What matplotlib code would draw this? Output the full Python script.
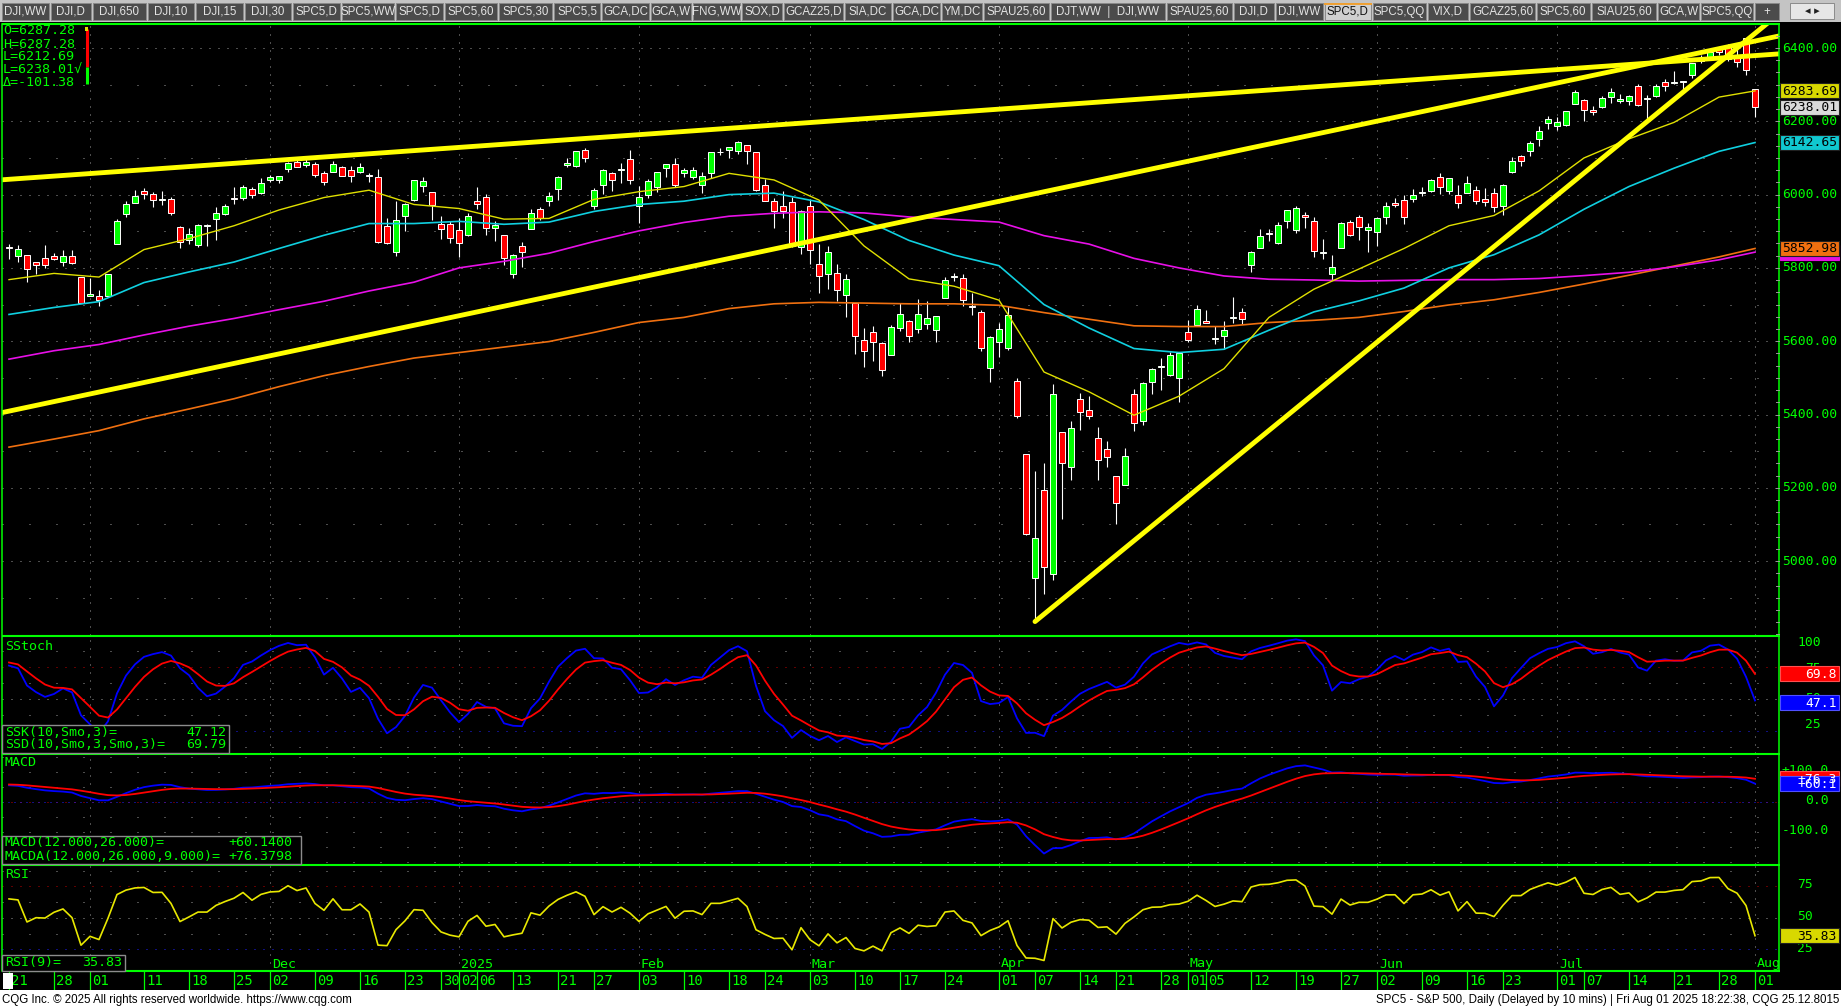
import numpy as np
import pandas as pd
import matplotlib
matplotlib.use('Agg')
import matplotlib.pyplot as plt
from matplotlib.patches import Rectangle

# S&P 500 daily bars, 21 Oct 2024 .. 01 Aug 2025 (one value per session)
open_ = [
    5857, 5833, 5834, 5817, 5826, 5833, 5816, 5833, 5775,
    5723, 5724, 5722, 5864, 5947, 5977, 6009, 6003, 5985, 5989, 5912, 5877, 5862, 5915, 5933, 5948, 5992, 5992, 6015, 6004,
    6040, 6041, 6069, 6089, 6081, 6084, 6058, 6061, 6075, 6068, 6063, 6052, 6048, 5913, 5843, 5941, 5985, 6024, 6006, 5920, 5920,
    5903, 5891, 5983, 5994, 5910, 5890, 5782, 5859, 5905, 5962, 5983, 6015, 6082, 6077, 6122, 5970, 6027, 6058, 6066, 6096,
    5969, 5998, 6021, 6073, 6083, 6060, 6049, 6026, 6060, 6115, 6121, 6118, 6134, 6115, 6026, 5983, 5970, 5981, 5856,
    5969, 5811, 5782, 5785, 5726, 5705, 5603, 5624, 5594, 5563, 5635, 5655, 5633, 5646, 5631, 5718, 5775, 5772, 5696, 5679, 5527,
    5597, 5581, 5492, 5292, 4954, 5193, 4965, 5353, 5256, 5441, 5412, 5335, 5305, 5232, 5207, 5456, 5381, 5489, 5529, 5508, 5499,
    5626, 5645, 5655, 5605, 5614, 5663, 5679, 5807, 5855, 5895, 5869, 5929, 5903, 5945, 5927, 5842, 5782, 5854, 5926, 5939, 5903,
    5897, 5938, 5978, 5985, 5987, 6005, 6010, 6049, 6010, 6000, 6005, 6013, 5987, 6005, 5969, 6061, 6106, 6118, 6151, 6194,
    6187, 6189, 6246, 6259, 6232, 6240, 6266, 6256, 6255, 6296, 6260, 6269, 6308, 6304, 6307, 6326, 6369, 6371, 6398, 6403, 6377, 6428,
    6287.28,
]
high = [
    5866, 5863, 5834, 5817, 5862, 5842, 5848, 5850, 5775,
    5773, 5741, 5783, 5933, 5983, 6012, 6017, 6008, 6009, 5993, 5915, 5909, 5920, 5920, 5965, 5973, 6021, 6025, 6021, 6044,
    6053, 6052, 6089, 6100, 6100, 6088, 6065, 6092, 6079, 6078, 6085, 6058, 6070, 5935, 5982, 5978, 6041, 6049, 6007, 5941, 5929,
    5935, 5949, 6022, 6001, 5928, 5890, 5837, 5871, 5960, 5965, 6006, 6052, 6100, 6119, 6128, 6017, 6070, 6062, 6087, 6121,
    6023, 6042, 6062, 6084, 6101, 6073, 6076, 6063, 6117, 6127, 6129, 6147, 6134, 6115, 6043, 5992, 6010, 5993, 5959,
    5987, 5865, 5860, 5812, 5783, 5705, 5636, 5642, 5597, 5645, 5704, 5658, 5715, 5711, 5670, 5775, 5786, 5783, 5732, 5685, 5613,
    5651, 5695, 5500, 5292, 5247, 5268, 5482, 5353, 5381, 5460, 5450, 5367, 5329, 5233, 5309, 5469, 5489, 5528, 5554, 5571, 5570,
    5658, 5700, 5686, 5641, 5655, 5721, 5691, 5845, 5907, 5906, 5925, 5958, 5968, 5953, 5940, 5878, 5836, 5924, 5930, 5944, 5922,
    5938, 5981, 5991, 5999, 6016, 6022, 6043, 6060, 6046, 6027, 6050, 6023, 6019, 6018, 6028, 6102, 6108, 6146, 6188, 6215,
    6211, 6227, 6285, 6262, 6242, 6269, 6290, 6274, 6273, 6301, 6273, 6301, 6316, 6336, 6310, 6360, 6381, 6389, 6401, 6410, 6409, 6428,
    6287.28,
]
low = [
    5824, 5816, 5762, 5784, 5799, 5822, 5805, 5812, 5703,
    5723, 5697, 5722, 5864, 5940, 5976, 5987, 5966, 5971, 5945, 5853, 5866, 5857, 5860, 5876, 5945, 5973, 5986, 5991, 6003,
    6035, 6033, 6061, 6075, 6076, 6048, 6025, 6061, 6051, 6034, 6059, 6035, 5867, 5866, 5833, 5902, 5982, 6007, 5932, 5879, 5868,
    5829, 5888, 5960, 5890, 5874, 5809, 5773, 5803, 5905, 5930, 5969, 5986, 6076, 6075, 6088, 5962, 6002, 6011, 6033, 6030,
    5923, 5990, 6007, 6048, 6020, 6049, 6042, 6004, 6044, 6108, 6099, 6112, 6084, 6009, 5982, 5909, 5935, 5858, 5837,
    5810, 5732, 5742, 5711, 5667, 5565, 5529, 5547, 5505, 5563, 5628, 5597, 5622, 5633, 5598, 5718, 5765, 5695, 5671, 5572, 5489,
    5558, 5575, 5391, 5070, 4835, 4910, 4949, 5115, 5220, 5358, 5387, 5220, 5256, 5101, 5207, 5356, 5371, 5455, 5468, 5505, 5434,
    5597, 5644, 5650, 5593, 5578, 5651, 5646, 5788, 5853, 5873, 5865, 5908, 5895, 5910, 5830, 5825, 5768, 5854, 5886, 5877, 5844,
    5861, 5921, 5966, 5921, 5979, 5997, 6006, 6003, 6003, 5963, 6005, 5975, 5970, 5952, 5943, 6060, 6079, 6104, 6133, 6180,
    6175, 6188, 6246, 6202, 6218, 6236, 6251, 6249, 6244, 6243, 6201, 6266, 6284, 6303, 6282, 6317, 6360, 6368, 6380, 6364, 6347, 6327,
    6212.69,
]
close = [
    5853, 5851, 5797, 5809, 5808, 5823, 5832, 5813, 5705,
    5729, 5712, 5782, 5929, 5973, 5996, 6001, 5984, 5985, 5949, 5871, 5893, 5917, 5917, 5949, 5969, 5987, 6021, 5999, 6032,
    6047, 6050, 6086, 6075, 6090, 6053, 6034, 6084, 6051, 6051, 6074, 6051, 5872, 5867, 5931, 5974, 6040, 6037, 5971, 5907, 5882,
    5869, 5942, 5975, 5909, 5918, 5827, 5836, 5843, 5950, 5937, 5997, 6049, 6086, 6119, 6101, 6012, 6068, 6039, 6071, 6041,
    5994, 6038, 6061, 6084, 6026, 6066, 6068, 6052, 6115, 6115, 6129, 6144, 6118, 6013, 5983, 5955, 5956, 5861, 5955,
    5850, 5778, 5843, 5739, 5770, 5615, 5572, 5599, 5522, 5639, 5675, 5615, 5675, 5663, 5668, 5768, 5777, 5712, 5693, 5581, 5612,
    5633, 5671, 5397, 5074, 5062, 4983, 5457, 5268, 5363, 5406, 5397, 5276, 5283, 5158, 5288, 5376, 5485, 5525, 5529, 5561, 5569,
    5604, 5687, 5650, 5607, 5631, 5664, 5660, 5844, 5886, 5892, 5917, 5958, 5964, 5940, 5845, 5842, 5802, 5922, 5889, 5912, 5912,
    5936, 5970, 5971, 5939, 6000, 6006, 6039, 6022, 6045, 5977, 6033, 5982, 5981, 5967, 6025, 6092, 6092, 6141, 6173, 6205,
    6198, 6227, 6279, 6230, 6226, 6263, 6280, 6260, 6269, 6244, 6264, 6297, 6297, 6306, 6310, 6359, 6364, 6389, 6390, 6371, 6363, 6339,
    6238.01,
]

# moving averages every 5th session (plus the last bar)
ma_idx = list(range(0, 191, 5)) + [194]
ma_yellow = [5768, 5785, 5775, 5850, 5880, 5915, 5958, 5992, 6012, 5973, 5962, 5933, 5935, 5987, 6008, 6022, 6058, 6040, 5985, 5860,
             5770, 5750, 5712, 5516, 5462, 5398, 5450, 5525, 5665, 5742, 5797, 5853, 5915, 5943, 6010, 6100, 6152, 6197, 6266, 6283]
ma_cyan = [5673, 5692, 5708, 5760, 5789, 5816, 5853, 5889, 5921, 5921, 5927, 5919, 5925, 5954, 5973, 5982, 6000, 6004, 5980, 5932,
           5875, 5835, 5806, 5700, 5636, 5580, 5569, 5578, 5630, 5680, 5710, 5745, 5800, 5836, 5890, 5960, 6022, 6072, 6118, 6142]
ma_magenta = [5551, 5574, 5591, 5617, 5641, 5662, 5686, 5709, 5737, 5761, 5800, 5818, 5840, 5872, 5901, 5924, 5941, 5949, 5953, 5950,
              5939, 5932, 5925, 5888, 5865, 5826, 5800, 5778, 5769, 5767, 5764, 5766, 5768, 5768, 5771, 5779, 5788, 5803, 5822, 5843]
ma_orange = [5311, 5333, 5356, 5388, 5415, 5443, 5476, 5506, 5531, 5554, 5569, 5584, 5599, 5624, 5651, 5665, 5689, 5702, 5706, 5704,
             5702, 5702, 5698, 5678, 5660, 5642, 5640, 5640, 5651, 5657, 5665, 5681, 5699, 5713, 5733, 5756, 5780, 5805, 5830, 5853]

# hand-drawn trend lines: (session, price) -> (session, price)
trend_lines = [((-1, 6040), (196.7, 6384)),
               ((-1, 5404), (196.7, 6433)),
               ((114, 4835), (196.7, 6494))]

# indicator state at the left edge of each study panel
ssk_start, ssd_start = 80.0, 80.0
rsi_gain0, rsi_loss0 = 13.0, 7.0
ema12_start, ema26_start, signal_start = 5818.0, 5762.0, 58.0

date_ticks = [0, 5, 9, 15, 20, 25, 29, 34, 39, 44, 48, 50, 52, 56, 61, 65, 70, 75, 80, 84, 89, 94, 99, 104,
              110, 114, 119, 123, 128, 131, 133, 138, 143, 148, 152, 157, 162, 166, 172, 175, 180, 185, 190, 194]
date_labels = ['21', '28', '01', '11', '18', '25', '02', '09', '16', '23', '30', '02', '06', '13', '21', '27',
               '03', '10', '18', '24', '03', '10', '17', '24', '01', '07', '14', '21', '28', '01', '05', '12',
               '19', '27', '02', '09', '16', '23', '01', '07', '14', '21', '28', '01']
month_ticks = [29, 50, 70, 89, 110, 131, 152, 172, 194]
month_labels = ['Dec', '2025', 'Feb', 'Mar', 'Apr', 'May', 'Jun', 'Jul', 'Aug']
month_lines = [9] + month_ticks
price_labels = [5000, 5200, 5400, 5600, 5800, 6000, 6200, 6400]

tabs = ['DJI,WW', 'DJI,D', 'DJI,650', 'DJI,10', 'DJI,15', 'DJI,30', 'SPC5,D', 'SPC5,WW', 'SPC5,D', 'SPC5,60',
        'SPC5,30', 'SPC5,5', 'GCA,DC', 'GCA,W', 'FNG,WW', 'SOX,D', 'GCAZ25,D', 'SIA,DC', 'GCA,DC', 'YM,DC',
        'SPAU25,60', 'DJT,WW  |  DJI,WW', 'SPAU25,60', 'DJI,D', 'DJI,WW', 'SPC5,D', 'SPC5,QQ', 'VIX,D',
        'GCAZ25,60', 'SPC5,60', 'SIAU25,60', 'GCA,W', 'SPC5,QQ', '+']
active_tab = 25

# ---------------- studies ----------------
o, h, l, c = map(np.array, (open_, high, low, close))
n = len(c)
idx = np.arange(n)

hh = pd.Series(h).rolling(10, min_periods=1).max().values
ll = pd.Series(l).rolling(10, min_periods=1).min().values
raw_k = 100 * (c - ll) / (hh - ll)
ssk = np.zeros(n)
ssd = np.zeros(n)
k, d = ssk_start, ssd_start
for i in range(n):
    k += (raw_k[i] - k) / 3
    d += (k - d) / 3
    ssk[i], ssd[i] = k, d

rsi = np.zeros(n)
g, lo_ = rsi_gain0, rsi_loss0
for i in range(n):
    if i > 0:
        ch = c[i] - c[i - 1]
        g = (g * 8 + max(ch, 0)) / 9
        lo_ = (lo_ * 8 + max(-ch, 0)) / 9
    rsi[i] = 100 * g / (g + lo_)

macd = np.zeros(n)
sig = np.zeros(n)
e12, e26, s = ema12_start, ema26_start, signal_start
for i in range(n):
    e12 += (c[i] - e12) * 2 / 13
    e26 += (c[i] - e26) * 2 / 27
    s += ((e12 - e26) - s) * 2 / 10
    macd[i], sig[i] = e12 - e26, s

# ---------------- layout (pixels) ----------------
W, H = 1841, 1008
X0, X1 = 2, 1779
MONO = ['DejaVu Sans Mono', 'DejaVu Sans']
SANS = ['Liberation Sans Narrow', 'Liberation Sans', 'DejaVu Sans']
GREEN = '#00ff00'
GREY = '#9a9a9a'

fig = plt.figure(figsize=(W / 100, H / 100), dpi=100)
fig.patch.set_facecolor('black')


class Scale:
    def __init__(self, yref, vref, ppu):
        self.yref, self.vref, self.ppu = yref, vref, ppu

    def y(self, v):
        return self.yref + (self.vref - v) * self.ppu

    def v(self, y):
        return self.vref + (self.yref - y) / self.ppu


def panel(y0, y1, sc):
    ax = fig.add_axes([X0 / W, 1 - y1 / H, (X1 - X0) / W, (y1 - y0) / H])
    ax.set_facecolor('black')
    ax.set_xlim((X0 - 9) / 9.0, (X1 - 9) / 9.0)
    ax.set_ylim(sc.v(y1), sc.v(y0))
    ax.set_xticks([])
    ax.set_yticks([])
    for sp in ax.spines.values():
        sp.set_visible(False)
    for m in month_lines:
        ax.axvline(m, color=GREY, lw=0.72, ls=(0, (1, 7)), zorder=0.5)
    return ax


def hdots(ax, vals, color=GREY, gap=8):
    for v in vals:
        ax.axhline(v, color=color, lw=0.72, ls=(0, (1, gap)), zorder=0.6)


ps = Scale(48, 6400, 0.3665)
ss = Scale(667.3, 75, 1.274)
ms = Scale(801.7, 0, 0.30)
rs = Scale(886.3, 75, 1.26)

main = panel(25, 635, ps)
stoch = panel(637, 753, ss)
mac = panel(755, 864, ms)
rsp = panel(866, 971, rs)

# main chart
hdots(main, range(5000, 6401, 200))
hdots(main, range(4900, 6401, 200), gap=26)
main.vlines(idx, l, h, color='white', lw=0.8, zorder=2)
body_lo = np.minimum(o, c)
body_h = np.maximum(np.abs(c - o), 2.5)
main.bar(idx, body_h, bottom=body_lo, width=0.58,
         color=np.where(c >= o, '#00ff00', '#ff0000'),
         edgecolor='white', linewidth=0.7, zorder=3)
main.plot(ma_idx, ma_orange, color='#f07010', lw=1.2, zorder=4)
main.plot(ma_idx, ma_magenta, color='#e810e8', lw=1.2, zorder=4)
main.plot(ma_idx, ma_cyan, color='#10d0e0', lw=1.2, zorder=4)
main.plot(ma_idx, ma_yellow, color='#e0e000', lw=1.0, zorder=4)
for (xa, pa), (xb, pb) in trend_lines:
    main.plot([xa, xb], [pa, pb], color='#ffff00', lw=3.5, solid_capstyle='round', zorder=5)

# SStoch
hdots(stoch, [50])
hdots(stoch, [75], color='#c00000')
hdots(stoch, [25], color='#2020ff')
hdots(stoch, [87.5, 62.5, 37.5, 12.5], gap=26)
stoch.plot(idx, ssk, color='#0000ff', lw=1.3, zorder=3)
stoch.plot(idx, ssd, color='#ff0000', lw=1.3, zorder=3)

# MACD
hdots(mac, [0], color='#c00000')
hdots(mac, [0], color='#2020ff', gap=5)
hdots(mac, [150, 100, 50, -50, -100, -150, -200], gap=26)
mac.plot(idx, macd, color='#0000ff', lw=1.3, zorder=3)
mac.plot(idx, sig, color='#ff0000', lw=1.3, zorder=3)

# RSI
hdots(rsp, [50])
hdots(rsp, [75], color='#c00000')
hdots(rsp, [25], color='#2020ff')
hdots(rsp, [87.5, 62.5, 37.5], gap=26)
rsp.plot(idx, rsi, color='#e8e800', lw=1.2, zorder=3)

# ---------------- overlay in pixel coordinates ----------------
ov = fig.add_axes([0, 0, 1, 1])
ov.set_xlim(0, W)
ov.set_ylim(H, 0)
ov.axis('off')
ov.set_zorder(10)


def xpix(i):
    return 9 + 9 * i


def txt(x, y, s, color=GREEN, size=9.6, ha='left', fam=MONO, z=6):
    ov.text(x, y, s, color=color, fontsize=size, ha=ha, va='center', family=fam, zorder=z)


# tab bar
ov.add_patch(Rectangle((0, 0), W, 22, facecolor='#c4c4c4', edgecolor='none', zorder=1))
widths = np.array([max(24, 10 + 6.2 * len(t)) for t in tabs])
widths *= (1777 - 2 * (len(tabs) - 1)) / widths.sum()
x = 2
for i, (t, w) in enumerate(zip(tabs, widths)):
    sel = i == active_tab
    ov.add_patch(Rectangle((x, 3), w, 17, facecolor='#cfcfcf' if sel else '#4b4b4b',
                           edgecolor='#8a8a8a', lw=0.7, zorder=2))
    if sel:
        ov.plot([x, x + w], [3.5, 3.5], color='#f0a030', lw=1.4, zorder=3)
    txt(x + w / 2, 12, t, color='#101010' if sel else '#e4e4e4', size=8.3, ha='center', fam=SANS, z=3)
    x += w + 2
ov.add_patch(Rectangle((1790, 3), 44, 16, facecolor='#e6e6e6', edgecolor='#8a8a8a', lw=0.7, zorder=2))
txt(1812, 11.5, '\u25c2 \u25b8', color='#202020', size=8, ha='center', fam=['DejaVu Sans'], z=3)

# panel borders
for yb in (24, 636, 754, 865, 971):
    ov.plot([2, 1780], [yb, yb], color=GREEN, lw=1.5, solid_capstyle='butt', zorder=4)
ov.plot([2.5, 2.5], [24, 971], color=GREEN, lw=1.1, zorder=4)
ov.plot([1779.5, 1779.5], [24, 971], color=GREEN, lw=1.1, zorder=4)

# OHLC readout
for yy, s in zip([31, 44, 57, 70, 83], ['O=6287.28', 'H=6287.28', 'L=6212.69', 'L=6238.01\u221a', '\u0394=-101.38']):
    txt(3, yy, s)
ov.plot([87, 87], [29, 67], color='#ff0000', lw=2.2, solid_capstyle='butt', zorder=5)
ov.plot([87, 87], [67, 84], color=GREEN, lw=2.2, solid_capstyle='butt', zorder=5)
ov.add_patch(Rectangle((85, 27), 3, 4, facecolor='#e0e000', edgecolor='none', zorder=6))

# right price axis
for p in np.arange(4800, 6470, 200 / 6):
    yy = ps.y(p)
    if 25 < yy < 635:
        ov.plot([1776, 1779], [yy, yy], color=GREY, lw=0.7, zorder=4)
for p in price_labels:
    txt(1782, ps.y(p), '%.2f' % p, size=9.4)


def vbox(y, s, face, tcolor='black', edge='#202020'):
    ov.add_patch(Rectangle((1780, y - 7.5), 59, 15, facecolor=face, edgecolor=edge, lw=0.8, zorder=7))
    txt(1837, y + 0.5, s, color=tcolor, size=9.4, ha='right', z=8)


vbox(ps.y(6283.69), '6283.69', '#d8d800')
vbox(ps.y(6238.01), '6238.01', '#dadada')
vbox(ps.y(6142.65), '6142.65', '#10c8d0')
vbox(ps.y(ma_magenta[-1]), '', '#e010e0', edge='#e010e0')
vbox(ps.y(5852.98), '5852.98', '#f07010')

# study axes labels
for v, s in [(643, '100'), (668, '75'), (699, '50'), (725, '25')]:
    txt(1821, v, s, ha='right', size=9.4)
for v, s in [(770, '+100.0'), (801, '0.0'), (830, '-100.0')]:
    txt(1829, v, s, ha='right', size=9.4)
for v, s in [(885, '75'), (916, '50'), (948, '25')]:
    txt(1813, v, s, ha='right', size=9.4)
vbox(ss.y(69.79), '69.8', '#ff0000', 'white', '#ff5050')
vbox(ss.y(47.12), '47.1', '#0000ff', 'white', '#5050ff')
vbox(ms.y(76.38), '+76.3', '#ff0000', 'white', '#ff5050')
vbox(ms.y(60.14), '+60.1', '#0000ff', 'white', '#5050ff')
vbox(rs.y(35.83), '35.83', '#d8d800')

# study titles and readouts
txt(5, 646, 'SStoch')
txt(5, 763, 'MACD')
txt(5, 875, 'RSI')
for m, s in zip(month_ticks, month_labels):
    txt(xpix(m) + 2, 964, s, size=9.6, z=5)


def legend_box(x1, y0, y1, rows, xr):
    ov.add_patch(Rectangle((2, y0), x1 - 2, y1 - y0, facecolor='black', edgecolor='#8c8c8c', lw=1.0, zorder=6))
    for yy, a, b in rows:
        txt(5, yy, a, z=7)
        txt(xr, yy, b, ha='right', z=7)


legend_box(229, 725, 753, [(732, 'SSK(10,Smo,3)=', '47.12'), (745, 'SSD(10,Smo,3,Smo,3)=', '69.79')], 226)
legend_box(301, 836, 864, [(843, 'MACD(12.000,26.000)=', '+60.1400'), (856, 'MACDA(12.000,26.000,9.000)=', '+76.3798')], 292)
legend_box(125, 955, 971, [(962.5, 'RSI(9)=', '35.83')], 122)

# date axis
for t, s in zip(date_ticks, date_labels):
    xx = xpix(t)
    ov.plot([xx, xx], [971, 990], color=GREEN, lw=0.9, zorder=4)
    txt(xx + 2, 981, s, size=10, z=4)
ov.add_patch(Rectangle((3, 973), 10, 16, facecolor='white', edgecolor='none', zorder=5))

# footer
ov.add_patch(Rectangle((0, 990), W, 18, facecolor='white', edgecolor='none', zorder=4))
txt(2, 999.5, 'CQG Inc. \u00a9 2025 All rights reserved worldwide. https://www.cqg.com',
    color='black', size=8.3, fam=SANS, z=5)
txt(1839, 999.5, 'SPC5 - S&P 500, Daily (Delayed by 10 mins) | Fri Aug 01 2025 18:22:38, CQG 25.12.8015',
    color='black', size=8.3, ha='right', fam=SANS, z=5)

fig.savefig('out.png', dpi=100, facecolor='black')
